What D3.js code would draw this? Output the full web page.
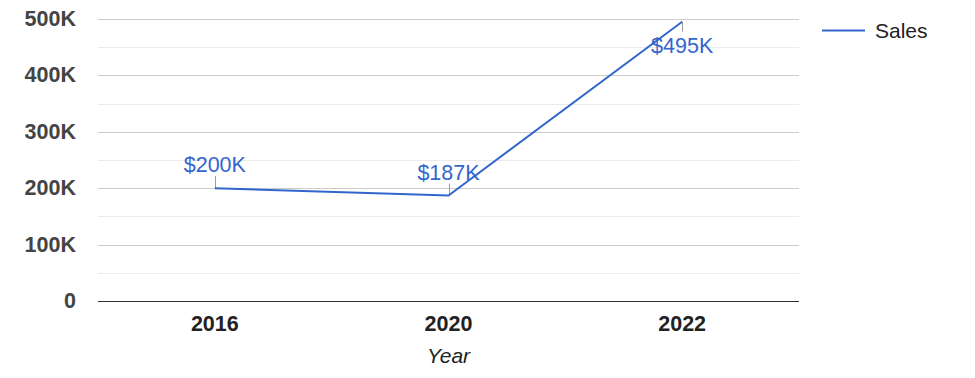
<!DOCTYPE html>
<meta charset="utf-8">
<style>
body { margin: 0; background: #fff; }
text { font-family: "Liberation Sans", Arial, sans-serif; }
.tick-y { font-size: 21.5px; font-weight: bold; fill: #444; text-anchor: end; }
.tick-x { font-size: 21.5px; font-weight: bold; fill: #222; text-anchor: middle; }
.vlabel { font-size: 21.5px; fill: #3366cc; text-anchor: middle; }
</style>
<svg width="975" height="378"></svg>
<script src="https://d3js.org/d3.v7.min.js"></script>
<script>

var years = ["2016", "2020", "2022"],
    sales = [200000, 187000, 495000],
    yTicks = [0, 100000, 200000, 300000, 400000, 500000],
    yMinor = [50000, 150000, 250000, 350000, 450000],
    seriesName = "Sales",
    axisTitle = "Year";

var svg = d3.select("svg"),
    plotLeft = 98, plotRight = 799, plotTop = 19, plotBottom = 301;

var x = d3.scalePoint().domain(years).range([plotLeft, plotRight]).padding(0.5);
var y = d3.scaleLinear().domain([0, 500000]).range([plotBottom, plotTop]);
var fmt = function(v) { return v === 0 ? "0" : (v / 1000) + "K"; };
var snap = function(v) { return Math.round(y(v)) + 0.5; };

// minor grid
svg.append("g").selectAll("line").data(yMinor).enter().append("line")
    .attr("x1", plotLeft).attr("x2", plotRight)
    .attr("y1", snap).attr("y2", snap)
    .attr("stroke", "#ebebeb");

// major grid
svg.append("g").selectAll("line").data(yTicks.slice(1)).enter().append("line")
    .attr("x1", plotLeft).attr("x2", plotRight)
    .attr("y1", snap).attr("y2", snap)
    .attr("stroke", "#cccccc");

// baseline
svg.append("line")
    .attr("x1", plotLeft).attr("x2", plotRight)
    .attr("y1", snap(0)).attr("y2", snap(0))
    .attr("stroke", "#333");

svg.append("g").selectAll("text").data(yTicks).enter().append("text")
    .attr("class", "tick-y")
    .attr("x", 76)
    .attr("y", function(d) { return y(d) + 7; })
    .text(fmt);

svg.append("g").selectAll("text").data(years).enter().append("text")
    .attr("class", "tick-x")
    .attr("x", function(d) { return x(d); })
    .attr("y", 331)
    .text(function(d) { return d; });

svg.append("text")
    .attr("x", (plotLeft + plotRight) / 2).attr("y", 363)
    .attr("text-anchor", "middle")
    .style("font-size", "21px").style("font-style", "italic").style("fill", "#222")
    .text(axisTitle);

var data = years.map(function(d, i) { return { year: d, value: sales[i] }; });

var line = d3.line()
    .x(function(d) { return x(d.year); })
    .y(function(d) { return y(d.value); });

// value labels with leader ticks; last one sits below the point
var below = function(d, i) { return i === data.length - 1; };

svg.append("g").selectAll("line").data(data).enter().append("line")
    .attr("x1", function(d) { return Math.round(x(d.year)) + 0.5; })
    .attr("x2", function(d) { return Math.round(x(d.year)) + 0.5; })
    .attr("y1", function(d) { return y(d.value); })
    .attr("y2", function(d, i) { return y(d.value) + (below(d, i) ? 10 : -12); })
    .attr("stroke", "#999").attr("stroke-width", 1);

svg.append("path").datum(data)
    .attr("d", line)
    .attr("fill", "none")
    .attr("stroke", "#3366cc")
    .attr("stroke-width", 2);

svg.append("g").selectAll("text").data(data).enter().append("text")
    .attr("class", "vlabel")
    .attr("x", function(d) { return x(d.year); })
    .attr("y", function(d, i) { return y(d.value) + (below(d, i) ? 31 : -16); })
    .text(function(d) { return "$" + (d.value / 1000) + "K"; });

// legend
var lg = svg.append("g").attr("transform", "translate(822,30.5)");
lg.append("line").attr("x1", 0).attr("x2", 43).attr("stroke", "#3366cc").attr("stroke-width", 2);
lg.append("text").attr("x", 53).attr("y", 7)
    .style("font-size", "21px").style("fill", "#222")
    .text(seriesName);

</script>
